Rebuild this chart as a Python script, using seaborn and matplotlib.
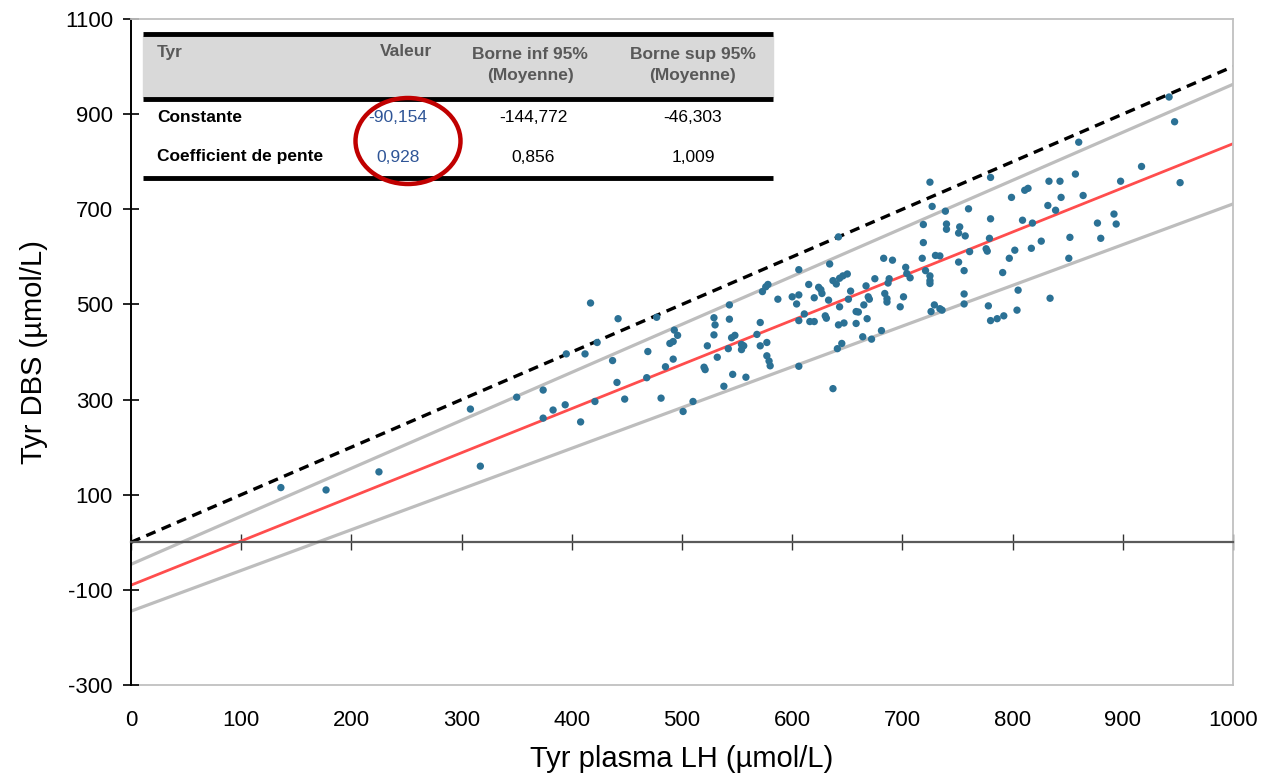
import numpy as np
import pandas as pd
import matplotlib
matplotlib.use('Agg')
import matplotlib.pyplot as plt
import seaborn as sns
from matplotlib.patches import Rectangle, Ellipse

# -------------------------------
# Data
# -------------------------------
tyr_plasma = [136, 177, 225, 308, 317, 350, 374, 374, 383, 394, 395, 408, 412, 417,
              421, 423, 437, 441, 442, 448, 468, 469, 477, 481, 485, 489, 492, 492,
              493, 496, 501, 510, 520, 521, 523, 529, 530, 529, 532, 538, 543, 543,
              542, 545, 548, 546, 554, 556, 554, 558, 568, 571, 571, 577, 577, 579,
              580, 573, 576, 578, 587,
              600, 606, 604, 606, 606, 606, 611, 615, 616, 620, 620, 624, 626, 627,
              630, 631, 633, 634, 637, 637, 640, 642, 642, 643, 643, 641, 645, 646,
              647, 650, 651, 653,
              658, 658, 660, 664, 665, 667, 669, 670, 668, 672, 675, 681, 683, 684,
              686, 686, 688, 687, 691, 698, 701,
              703, 704, 707, 718, 719, 719, 721, 725, 725, 725, 725, 727, 726, 729,
              734, 736, 730, 734, 739, 740, 740, 751, 752, 757, 751, 756, 756, 756,
              760, 761,
              776, 777, 779, 780, 780, 778, 780, 786, 792, 791, 797, 799, 802, 804,
              805, 809, 811, 814, 817, 818, 826, 832, 833, 834, 839, 843, 844, 851,
              852, 857, 860, 864, 877, 880, 892, 894, 898, 917, 942, 947, 952]
tyr_dbs = [115, 110, 148, 280, 160, 305, 320, 261, 278, 289, 396, 253, 396, 503,
           296, 420, 382, 336, 470, 301, 346, 401, 473, 303, 369, 418, 422, 385,
           446, 435, 275, 296, 368, 363, 413, 436, 457, 472, 389, 328, 499, 469,
           407, 430, 435, 353, 416, 413, 405, 347, 437, 462, 413, 420, 392, 381,
           371, 527, 537, 542, 511,
           516, 520, 501, 573, 466, 370, 480, 542, 464, 464, 514, 536, 531, 523,
           476, 471, 509, 585, 550, 323, 543, 642, 457, 555, 495, 407, 418, 560,
           461, 564, 511, 528,
           485, 460, 484, 432, 499, 539, 516, 511, 470, 427, 554, 445, 597, 523,
           512, 505, 554, 545, 593, 495, 516,
           578, 565, 556, 597, 630, 668, 571, 560, 550, 544, 757, 706, 485, 499,
           491, 488, 603, 602, 696, 669, 658, 650, 663, 644, 589, 571, 522, 501,
           701, 611,
           617, 612, 639, 680, 767, 497, 466, 470, 476, 567, 597, 725, 614, 488,
           530, 677, 740, 744, 618, 671, 633, 708, 759, 513, 698, 759, 725, 597,
           641, 774, 841, 729, 671, 639, 690, 669, 759, 790, 936, 884, 756]

# Regression results table
row_labels = ['Constante', 'Coefficient de pente']
valeur = [-90.154, 0.928]
borne_inf = [-144.772, 0.856]
borne_sup = [-46.303, 1.009]

x_ticks = list(range(0, 1001, 100))
y_ticks = list(range(-300, 1101, 200))

df = pd.DataFrame({'plasma': tyr_plasma, 'dbs': tyr_dbs})


def fr(v):
    # French decimal comma
    return f'{v:.3f}'.replace('.', ',')


sns.set_style('white')
plt.rcParams['font.family'] = ['Liberation Sans', 'DejaVu Sans']
plt.rcParams['axes.unicode_minus'] = False
plt.rcParams['text.color'] = 'black'
plt.rcParams['axes.labelcolor'] = 'black'
plt.rcParams['xtick.color'] = 'black'
plt.rcParams['ytick.color'] = 'black'

fig = plt.figure(figsize=(12.68, 7.78), dpi=100)
ax = fig.add_axes([131 / 1268, 1 - 685 / 778, 1102 / 1268, 666 / 778])

# regression lines
x_line = np.array([0, 1000])
lines = pd.DataFrame({
    'x': np.concatenate([x_line] * 4),
    'y': np.concatenate([x_line,
                         borne_sup[0] + borne_sup[1] * x_line,
                         borne_inf[0] + borne_inf[1] * x_line,
                         valeur[0] + valeur[1] * x_line]),
    'kind': ['identite'] * 2 + ['sup'] * 2 + ['inf'] * 2 + ['reg'] * 2,
})
sns.lineplot(data=lines[lines.kind == 'sup'], x='x', y='y', color='#BDBDBD', lw=2.3, ax=ax)
sns.lineplot(data=lines[lines.kind == 'inf'], x='x', y='y', color='#BDBDBD', lw=2.3, ax=ax)
sns.lineplot(data=lines[lines.kind == 'reg'], x='x', y='y', color='#FF4D4D', lw=2.0, ax=ax)
sns.lineplot(data=lines[lines.kind == 'identite'], x='x', y='y', color='black', lw=2.4,
             ax=ax, linestyle=(0, (3, 2)))

sns.scatterplot(data=df, x='plasma', y='dbs', color='#2B7195', s=28, edgecolor='none',
                ax=ax, zorder=5)

ax.set_xlim(0, 1000)
ax.set_ylim(-300, 1100)
ax.set_xlabel('')
ax.set_ylabel('Tyr DBS (µmol/L)', fontsize=21, labelpad=12)

# frame
for side in ['top', 'right']:
    ax.spines[side].set_color('#C0C0C0')
    ax.spines[side].set_linewidth(1.3)
ax.spines['left'].set_color('black')
ax.spines['left'].set_linewidth(1.4)
ax.spines['bottom'].set_position(('data', 0))
ax.spines['bottom'].set_color('#5A5A5A')
ax.spines['bottom'].set_linewidth(1.6)

ax.set_yticks(y_ticks)
ax.tick_params(axis='y', left=True, direction='inout', length=12, width=1.2,
               color='black', labelsize=16, pad=7)
ax.set_xticks(x_ticks)
ax.tick_params(axis='x', bottom=True, direction='inout', length=12, width=1.0,
               color='#333333', labelbottom=False)

sec = ax.secondary_xaxis('bottom')
sec.set_xticks(x_ticks)
sec.tick_params(bottom=True, length=0, labelsize=16, pad=18)
sec.spines['bottom'].set_color('#C0C0C0')
sec.spines['bottom'].set_linewidth(1.3)
sec.set_xlabel('Tyr plasma LH (µmol/L)', fontsize=21, labelpad=10)

# -------------------------------
# Results table drawn inside the plot
# -------------------------------
def axx(px):
    return (px - 131) / 1102


def axy(py):
    return (685 - py) / 666


tfont = ['Liberation Sans Narrow', 'Liberation Sans', 'DejaVu Sans']
ax.add_patch(Rectangle((axx(143), axy(97)), axx(773) - axx(143), axy(36) - axy(97),
                       transform=ax.transAxes, color='#D9D9D9', zorder=6))
for py in [34, 99, 178]:
    ax.plot([axx(143), axx(773)], [axy(py), axy(py)], transform=ax.transAxes,
            color='black', lw=3.5, solid_capstyle='butt', zorder=7)

hdr = dict(transform=ax.transAxes, fontsize=12.5, color='#595959', fontweight='bold',
           family=tfont, zorder=8, va='center')
ax.text(axx(157), axy(52), 'Tyr', ha='left', **hdr)
ax.text(axx(432), axy(52), 'Valeur', ha='right', **hdr)
ax.text(axx(530), axy(65), 'Borne inf 95%\n(Moyenne)', ha='center', linespacing=1.5, **hdr)
ax.text(axx(693), axy(65), 'Borne sup 95%\n(Moyenne)', ha='center', linespacing=1.5, **hdr)

cell = dict(transform=ax.transAxes, fontsize=12.5, family=tfont, zorder=8, va='center')
for i, py in enumerate([118, 157]):
    ax.text(axx(157), axy(py), row_labels[i], ha='left', fontweight='bold', color='black', **cell)
    ax.text(axx(398), axy(py), fr(valeur[i]), ha='center', color='#2F5597', **cell)
    ax.text(axx(533), axy(py), fr(borne_inf[i]), ha='center', color='black', **cell)
    ax.text(axx(693), axy(py), fr(borne_sup[i]), ha='center', color='black', **cell)

ax.add_patch(Ellipse((axx(408), axy(141)), 105 / 1102, 86 / 666, transform=ax.transAxes,
                     fill=False, edgecolor='#C00000', lw=3.2, zorder=9))

fig.savefig('out.png', dpi=100)
